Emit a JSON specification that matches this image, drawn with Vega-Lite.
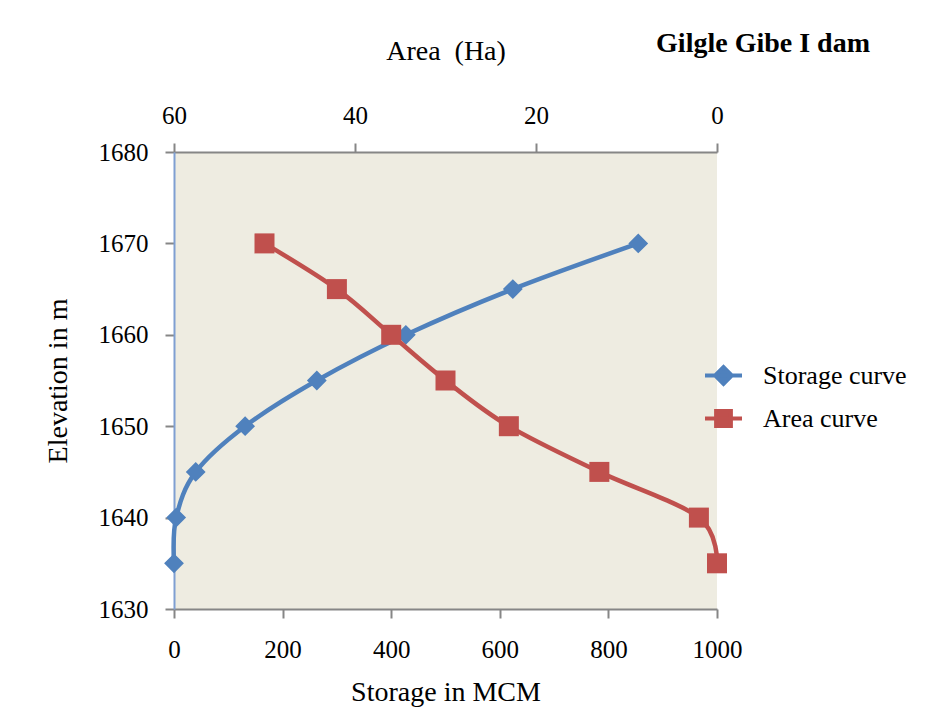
{
  "$schema": "https://vega.github.io/schema/vega-lite/v6.json",
  "width": 543,
  "height": 457,
  "autosize": {"type": "none"},
  "padding": {"left": 174, "top": 152, "right": 208, "bottom": 108},
  "background": "white",
  "config": {
    "font": "Liberation Serif",
    "view": {"fill": "#EEECE1", "stroke": null},
    "axis": {
      "grid": false,
      "format": "d",
      "labelFlush": false,
      "labelOverlap": false,
      "labelFont": "Liberation Serif",
      "labelFontSize": 25,
      "labelColor": "black",
      "titleFont": "Liberation Serif",
      "titleFontSize": 28,
      "titleFontWeight": "normal",
      "titleColor": "black",
      "domainColor": "#868686",
      "domainWidth": 2,
      "tickColor": "#868686",
      "tickWidth": 2,
      "tickSize": 9
    }
  },
  "title": {
    "text": "Gilgle Gibe I dam",
    "anchor": "end",
    "frame": "group",
    "font": "Liberation Serif",
    "fontSize": 28,
    "fontWeight": "bold",
    "color": "black",
    "dx": 153,
    "dy": 25
  },
  "datasets": {
    "storage": [
      {"series": "Storage curve", "elevation": 1635, "storage": 0},
      {"series": "Storage curve", "elevation": 1640, "storage": 4},
      {"series": "Storage curve", "elevation": 1645, "storage": 40},
      {"series": "Storage curve", "elevation": 1650, "storage": 131},
      {"series": "Storage curve", "elevation": 1655, "storage": 263},
      {"series": "Storage curve", "elevation": 1660, "storage": 427},
      {"series": "Storage curve", "elevation": 1665, "storage": 624},
      {"series": "Storage curve", "elevation": 1670, "storage": 855}
    ],
    "area": [
      {"series": "Area curve", "elevation": 1635, "area": 0},
      {"series": "Area curve", "elevation": 1640, "area": 2},
      {"series": "Area curve", "elevation": 1645, "area": 13},
      {"series": "Area curve", "elevation": 1650, "area": 23},
      {"series": "Area curve", "elevation": 1655, "area": 30},
      {"series": "Area curve", "elevation": 1660, "area": 36},
      {"series": "Area curve", "elevation": 1665, "area": 42},
      {"series": "Area curve", "elevation": 1670, "area": 50}
    ]
  },
  "layer": [
    {
      "data": {"name": "storage"},
      "encoding": {
        "x": {
          "field": "storage",
          "type": "quantitative",
          "scale": {"domain": [0, 1000], "nice": false, "zero": false},
          "axis": {
            "orient": "bottom",
            "values": [0, 200, 400, 600, 800, 1000],
            "labelPadding": 19,
            "title": "Storage in MCM",
            "titlePadding": 16
          }
        }
      },
      "layer": [
        {
          "mark": {"type": "line", "color": "#4F81BD", "strokeWidth": 4.5, "interpolate": "cardinal"},
          "encoding": {
            "y": {
              "field": "elevation",
              "type": "quantitative",
              "scale": {"domain": [1630, 1680], "nice": false, "zero": false},
              "axis": {
                "orient": "left",
                "values": [1630, 1640, 1650, 1660, 1670, 1680],
                "domainColor": "#7F9FD2",
                "labelPadding": 17,
                "title": "Elevation in m",
                "titlePadding": 26
              }
            },
            "order": {"field": "elevation", "type": "quantitative"}
          }
        },
        {
          "mark": {"type": "point", "filled": true, "size": 1936, "opacity": 1, "strokeWidth": 0},
          "encoding": {
            "y": {"field": "elevation", "type": "quantitative"},
            "color": {
              "field": "series",
              "type": "nominal",
              "scale": {"domain": ["Storage curve", "Area curve"], "range": ["#4F81BD", "#C0504D"]},
              "legend": {
                "title": null,
                "orient": "none",
                "legendX": 529,
                "legendY": 203,
                "direction": "vertical",
                "padding": 0,
                "symbolSize": 1369,
                "symbolStrokeWidth": 4,
                "symbolOpacity": 1,
                "rowPadding": 6,
                "labelOffset": 19,
                "labelFont": "Liberation Serif",
                "labelFontSize": 26,
                "labelColor": "black"
              }
            },
            "stroke": {
              "field": "series",
              "type": "nominal",
              "scale": {"domain": ["Storage curve", "Area curve"], "range": ["#4F81BD", "#C0504D"]},
              "legend": {
                "title": null,
                "orient": "none",
                "legendX": 529,
                "legendY": 203,
                "direction": "vertical",
                "padding": 0,
                "symbolSize": 1369,
                "symbolStrokeWidth": 4,
                "symbolOpacity": 1,
                "rowPadding": 6,
                "labelOffset": 19,
                "labelFont": "Liberation Serif",
                "labelFontSize": 26,
                "labelColor": "black"
              }
            },
            "shape": {
              "field": "series",
              "type": "nominal",
              "scale": {
                "domain": ["Storage curve", "Area curve"],
                "range": [
                  "M-1,0L1,0M-0.45,0L0,-0.45L0.45,0L0,0.45Z",
                  "M-1,0L1,0M-0.4,-0.4L0.4,-0.4L0.4,0.4L-0.4,0.4Z"
                ]
              },
              "legend": {
                "title": null,
                "orient": "none",
                "legendX": 529,
                "legendY": 203,
                "direction": "vertical",
                "padding": 0,
                "symbolSize": 1369,
                "symbolStrokeWidth": 4,
                "symbolOpacity": 1,
                "rowPadding": 6,
                "labelOffset": 19,
                "labelFont": "Liberation Serif",
                "labelFontSize": 26,
                "labelColor": "black"
              }
            }
          }
        },
        {
          "data": {"values": [{}]},
          "mark": {"type": "rule", "color": "#6F96D1", "strokeWidth": 2},
          "encoding": {"x": {"datum": 1000}}
        }
      ]
    },
    {
      "data": {"name": "area"},
      "encoding": {
        "x": {
          "field": "area",
          "type": "quantitative",
          "scale": {"domain": [0, 60], "nice": false, "zero": false, "reverse": true},
          "axis": {
            "orient": "top",
            "values": [0, 20, 40, 60],
            "labelPadding": 15,
            "title": "Area \u00a0(Ha)",
            "titlePadding": 38
          }
        },
        "y": {"field": "elevation", "type": "quantitative"}
      },
      "layer": [
        {
          "mark": {"type": "line", "color": "#C0504D", "strokeWidth": 4.5, "interpolate": "cardinal"},
          "encoding": {"order": {"field": "elevation", "type": "quantitative"}}
        },
        {
          "mark": {"type": "point", "shape": "square", "filled": true, "size": 400, "opacity": 1, "color": "#C0504D"}
        }
      ]
    }
  ],
  "resolve": {"scale": {"x": "independent"}, "axis": {"x": "independent"}}
}
